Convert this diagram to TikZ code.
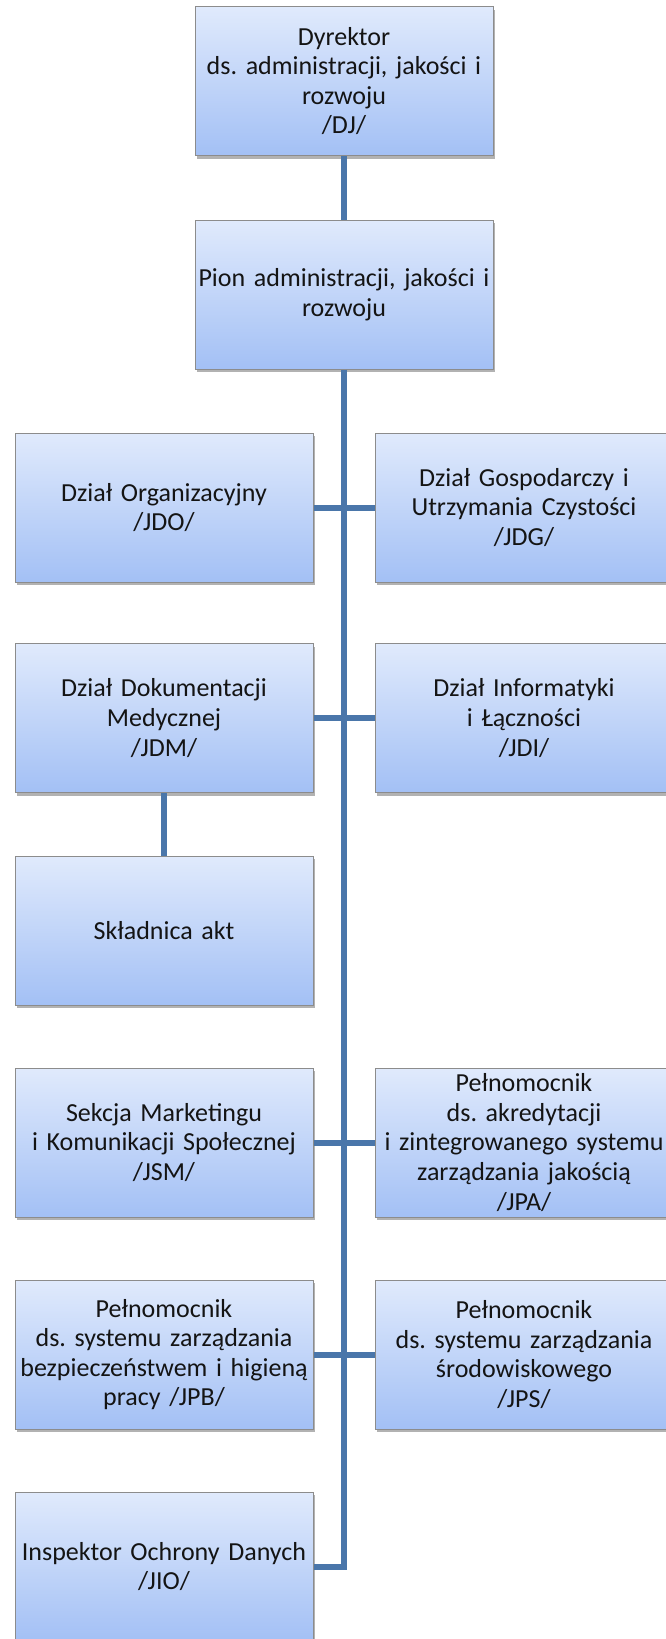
\documentclass[tikz,border=0pt]{standalone}
\usepackage{fontspec}
\setmainfont{Carlito}
\usetikzlibrary{shadows}
\definecolor{boxtop}{RGB}{224,234,252}
\definecolor{boxbot}{RGB}{163,192,245}
\definecolor{boxedge}{RGB}{140,140,140}
\definecolor{linkblue}{RGB}{74,118,170}
\definecolor{txt}{RGB}{20,20,20}
\frenchspacing
\begin{document}
\begin{tikzpicture}[x=0.5pt,y=-0.5pt,
  unit/.style={draw=boxedge,line width=0.5pt,top color=boxtop,bottom color=boxbot,
    minimum width=149pt,minimum height=74.5pt,inner sep=0pt,text width=149pt,
    align=center,text=txt,font=\fontsize{13}{14.8}\selectfont,
    drop shadow={shadow xshift=0.8pt,shadow yshift=-1.6pt,opacity=0.3,fill=black}},
  link/.style={draw=linkblue,line width=3pt}]
\useasboundingbox (0,0) rectangle (665,1639);

\node[unit] (dj) at (344,81) {Dyrektor\\ds. administracji, jakości i\\rozwoju\\/DJ/};
\node[unit] (pion) at (344,294.5) {Pion administracji, jakości i\\rozwoju};
%%%%%%%%%%%%%
\node[unit] (jdo) at (164,507.5) {Dział Organizacyjny\\/JDO/};
\node[unit] (jdg) at (524,507.5) {Dział Gospodarczy i\\Utrzymania Czystości\\/JDG/};
\node[unit] (jdm) at (164,718) {Dział Dokumentacji\\Medycznej\\/JDM/};
\node[unit] (jdi) at (524,718) {Dział Informatyki\\i Łączności\\/JDI/};
\node[unit] (akt) at (164,930.5) {Składnica akt};
%%%%%%%%%%%%%
\node[unit] (jsm) at (164,1142.5) {Sekcja Marketingu\\i Komunikacji Społecznej\\/JSM/};
\node[unit] (jpa) at (524,1142.5) {Pełnomocnik\\ds. akredytacji\\i zintegrowanego systemu\\zarządzania jakością\\/JPA/};
\node[unit] (jpb) at (164,1354.5) {Pełnomocnik\\ds. systemu zarządzania\\bezpieczeństwem i higieną\\pracy /JPB/};
\node[unit] (jps) at (524,1354.5) {Pełnomocnik\\ds. systemu zarządzania\\środowiskowego\\/JPS/};
\node[unit] (jio) at (164,1566.5) {Inspektor Ochrony Danych\\/JIO/};
%%%%%%%%%%%%%%%%%%%%%%%%%%%% links
\draw[link] (dj) to (pion);
\draw[link,line join=miter] (pion.south) |- (jio.east);
\draw[link] (jdo.east) to (jdg.west);
\draw[link] (jdm.east) to (jdi.west);
\draw[link] (jdm) to (akt);
\draw[link] (jsm.east) to (jpa.west);
\draw[link] (jpb.east) to (jps.west);

\end{tikzpicture}
\end{document}
